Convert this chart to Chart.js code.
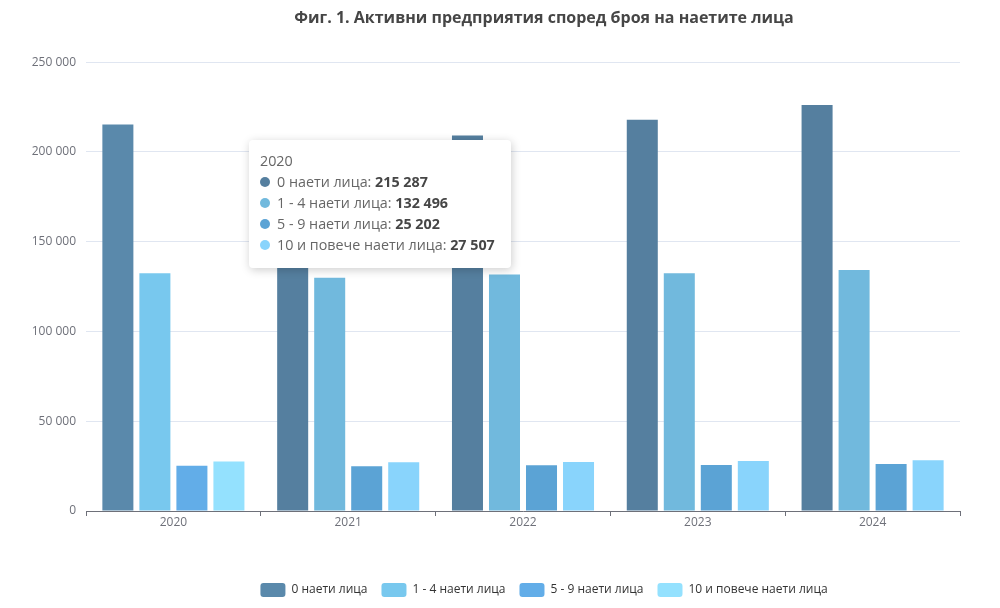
<!DOCTYPE html>
<html>
<head>
<meta charset="utf-8">
<script src="https://cdn.jsdelivr.net/npm/chart.js@4.4.1/dist/chart.umd.min.js"></script>
<style>
  html,body{margin:0;padding:0;background:#fff;}
  #wrap{position:relative;width:1000px;height:608px;}
  #tip{position:absolute;left:249px;top:140px;width:262px;height:128px;box-sizing:border-box;
    background:#fff;border-radius:4px;box-shadow:1px 2px 10px rgba(0,0,0,0.2);
    font-family:"Open Sans","Noto Sans",sans-serif;font-size:14.3px;color:#666;padding:10px 11px;}
  #tip .t{line-height:21px;margin-bottom:0px;}
  #tip .r{line-height:21px;white-space:nowrap;}
  #tip .d{display:inline-block;width:10px;height:10px;border-radius:5px;margin-right:7px;vertical-align:0px;}
  #tip b{color:#464646;font-weight:700;}
</style>
</head>
<body>
<div id="wrap">
<canvas id="c" width="1000" height="608"></canvas>
<div id="tip"></div>
</div>
<script>
const titleText = "Фиг. 1. Активни предприятия според броя на наетите лица";
const categories = ["2020", "2021", "2022", "2023", "2024"];
const seriesNames = ["0 наети лица", "1 - 4 наети лица", "5 - 9 наети лица", "10 и повече наети лица"];
const s0 = [215287, 202000, 209100, 217900, 226200];
const s1 = [132496, 129900, 131800, 132500, 134200];
const s2 = [25202, 24900, 25500, 25650, 26200];
const s3 = [27507, 27150, 27300, 27900, 28270];
const yTicks = [0, 50000, 100000, 150000, 200000, 250000];
const activeIndex = 0;

const baseColors = ["#557f9f", "#71b9dd", "#5ba3d5", "#89d4fc"];
const hiColors   = ["#5a89ab", "#78c8ee", "#62ade8", "#94e1fe"];

function fmt(v){ return String(Math.round(v)).replace(/\B(?=(\d{3})+(?!\d))/g, " "); }

const seriesData = [s0, s1, s2, s3];
const datasets = seriesData.map((d, i) => ({
  label: seriesNames[i],
  data: d,
  backgroundColor: categories.map((c, j) => j === activeIndex ? hiColors[i] : baseColors[i]),
  borderWidth: 0,
  categoryPercentage: 0.847,
  barPercentage: 0.838
}));

const FONT = '"Open Sans","Noto Sans",sans-serif';
const SHIFT = 64;
const shiftPlugin = {
  id: 'shift',
  afterLayout(chart){
    if (chart.legend){ chart.legend.left += SHIFT; chart.legend.right += SHIFT; }
    if (chart.titleBlock){ chart.titleBlock.left += SHIFT; chart.titleBlock.right += SHIFT; }
  }
};

new Chart(document.getElementById('c'), {
  type: 'bar',
  data: { labels: categories, datasets },
  plugins: [shiftPlugin],
  options: {
    responsive: false,
    animation: false,
    events: [],
    layout: { padding: { left: 0, right: 40, top: 9, bottom: 1 } },
    plugins: {
      title: { display: true, text: titleText, color: '#464646',
        font: { family: FONT, size: 16, weight: 'bold' }, padding: { top: 0, bottom: 34 } },
      legend: { position: 'bottom',
        labels: { boxWidth: 25, boxHeight: 14, useBorderRadius: true, borderRadius: 3,
          color: '#333', font: { family: FONT, size: 12 }, padding: 14 } },
      tooltip: { enabled: false }
    },
    scales: {
      x: {
        grid: { display: true, offset: true, drawOnChartArea: false, drawTicks: true, tickLength: 5, color: '#6e7079' },
        border: { display: true, color: '#6e7079', width: 1 },
        ticks: { color: '#6e7079', font: { family: FONT, size: 12 }, padding: -1 },
        afterFit(s){ s.height = 58; }
      },
      y: {
        min: 0, max: 250000,
        afterBuildTicks(s){ s.ticks = yTicks.map(v => ({ value: v })); },
        grid: { color: '#e0e6f1', drawTicks: false },
        border: { display: false },
        ticks: { color: '#6e7079', font: { family: FONT, size: 12 }, padding: 10,
          callback: v => fmt(v) },
        afterFit(s){ s.width = 86; }
      }
    }
  }
});

const tip = document.getElementById('tip');
let html = '<div class="t">' + categories[activeIndex] + '</div>';
seriesData.forEach((d, i) => {
  html += '<div class="r"><span class="d" style="background:' + baseColors[i] + '"></span>' +
    seriesNames[i] + ': <b>' + fmt(d[activeIndex]) + '</b></div>';
});
tip.innerHTML = html;
</script>
</body>
</html>
